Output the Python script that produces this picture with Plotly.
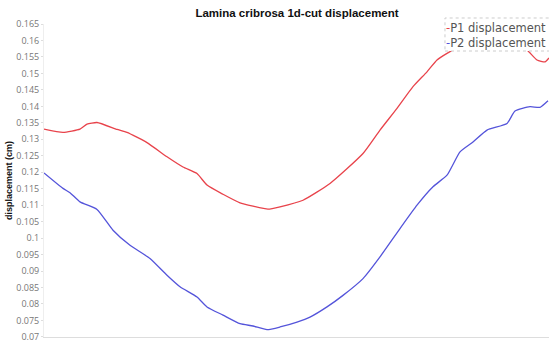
import plotly.graph_objects as go

# Cut position (sample offset along the 1d cut) and displacement values (cm)
p1_pos = [0, 19, 36, 43, 53, 73, 83, 103, 123, 139, 153, 163, 179, 196, 209, 224, 236,
          259, 286, 319, 336, 353, 369, 383, 393, 403, 421, 446, 471, 483, 493, 501, 505]
p1_disp = [0.1331, 0.1321, 0.1331, 0.1346, 0.1351, 0.1330, 0.1321, 0.1290, 0.1247, 0.1216,
           0.1196, 0.1161, 0.1133, 0.1107, 0.1097, 0.1088, 0.1095, 0.1115, 0.1166, 0.1257,
           0.1328, 0.1394, 0.1460, 0.1505, 0.1541, 0.1561, 0.1590, 0.1605, 0.1590, 0.1571,
           0.1541, 0.1535, 0.1547]

p2_pos = [0, 19, 26, 36, 53, 69, 86, 106, 123, 136, 153, 163, 179, 196, 209, 223, 236,
          253, 266, 283, 299, 319, 336, 356, 373, 389, 403, 416, 429, 443, 463, 471, 486, 496, 504]
p2_disp = [0.1198, 0.1151, 0.1138, 0.1110, 0.1087, 0.1024, 0.0978, 0.0938, 0.0887, 0.0852,
           0.0821, 0.0791, 0.0766, 0.0740, 0.0733, 0.0722, 0.0730, 0.0745, 0.0760, 0.0791,
           0.0826, 0.0877, 0.0943, 0.1029, 0.1100, 0.1156, 0.1191, 0.1262, 0.1292, 0.1328,
           0.1348, 0.1386, 0.1399, 0.1397, 0.1417]

series_names = ["P1 displacement", "P2 displacement"]
series_colors = ["#e8434b", "#5454da"]

title_text = "Lamina cribrosa 1d-cut displacement"
y_title = "displacement (cm)"
y_min, y_max, y_step = 0.07, 0.165, 0.005

fig = go.Figure()
for pos, disp, name, col in [(p1_pos, p1_disp, series_names[0], series_colors[0]),
                              (p2_pos, p2_disp, series_names[1], series_colors[1])]:
    fig.add_trace(go.Scatter(x=pos, y=disp, mode="lines", name=name,
                             line=dict(color=col, width=1.3, shape="spline", smoothing=0.5)))

# Legend box (overlapping top-right of the plot, running off the page edge)
fig.add_shape(type="rect", xref="paper", yref="paper", x0=0.794, x1=1.06,
              y0=0.9137, y1=1.0192, fillcolor="white",
              line=dict(color="#cccccc", width=1, dash="dot"), layer="above")
legend_html = "<br>".join(
    f"<span style='color:{c}'>-</span>{n}" for n, c in zip(series_names, series_colors))
fig.add_annotation(
    text=legend_html, xref="paper", yref="paper",
    x=0.794, y=0.9617, xanchor="left", yanchor="middle",
    align="left", showarrow=False, borderpad=0,
    font=dict(family="DejaVu Sans", size=11.5, color="#555555"))

fig.update_layout(
    width=549, height=340,
    margin=dict(l=44, r=0, t=24, b=3, autoexpand=False),
    paper_bgcolor="white", plot_bgcolor="white",
    showlegend=False,
    title=dict(text=f"<b>{title_text}</b>", x=0.541, xanchor="center",
               y=1 - 13 / 340, yanchor="middle", yref="container",
               font=dict(family="Liberation Sans", size=11.5, color="#111111")),
    xaxis=dict(range=[0, 505], showticklabels=False, showgrid=False, zeroline=False,
               showline=True, linecolor="#dddddd", linewidth=1, ticks=""),
    yaxis=dict(range=[y_min - 0.00004, y_max + 0.00002], dtick=y_step, tick0=y_min,
               showgrid=False, zeroline=False, showline=True, linecolor="#eeeeee",
               linewidth=1, ticks="outside", ticklen=2, tickcolor="#dddddd",
               ticklabeloverflow="allow",
               tickfont=dict(family="Open Sans", size=9, color="#777777"),
               title=dict(text=f"<b>{y_title}</b>", standoff=2,
                          font=dict(family="Liberation Sans", size=9, color="#111111"))),
)

fig.write_html("out.html", config={"displayModeBar": False},
               post_script="document.body.style.margin='0';")
